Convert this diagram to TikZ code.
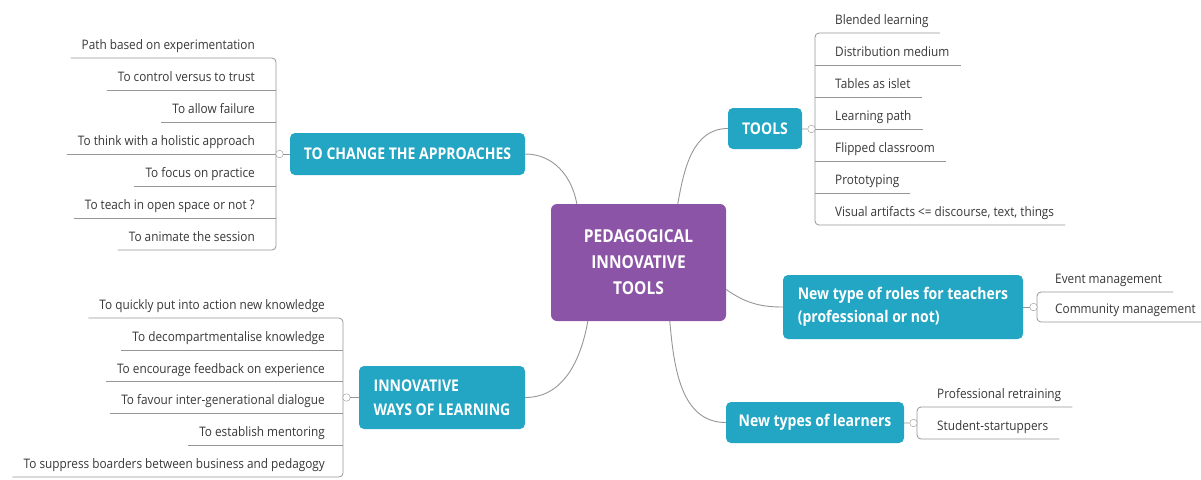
\documentclass[tikz,border=0pt]{standalone}
\usepackage{fontspec}
\setmainfont{Open Sans}[FakeStretch=0.87]
\newfontfamily\leaffont{Open Sans}[FakeStretch=0.9]
\usepackage{xcolor}
\usepackage{tikz}
\usetikzlibrary{positioning,shapes,calc}
\definecolor{rootpurple}{RGB}{140,84,166}
\definecolor{topicblue}{RGB}{34,166,196}
\definecolor{leafgray}{RGB}{55,55,55}
\definecolor{linegray}{RGB}{150,150,150}

\begin{document}
\begin{tikzpicture}[x=1pt,y=1pt,
	root/.style={fill=rootpurple, rounded corners=6pt, text=white, align=center, font=\bfseries\fontsize{17.8}{26}\selectfont, minimum width=175pt, minimum height=117pt},
	topic/.style={fill=topicblue, rounded corners=5pt, text=white, font=\bfseries\fontsize{16.1}{23.5}\selectfont},
	leafL/.style={anchor=south east, inner xsep=11pt, inner ysep=5pt, text height=10pt, text depth=3pt, text=leafgray, font=\leaffont\fontsize{13.1}{14}\selectfont},
	leafR/.style={anchor=south west, inner xsep=11pt, inner ysep=5pt, text height=10pt, text depth=3pt, text=leafgray, font=\leaffont\fontsize{13.1}{14}\selectfont},
	hub/.style={circle, draw=linegray, fill=white, inner sep=0pt, minimum size=7.5pt},
	twig/.style={draw=linegray, line width=0.8pt},
	branch/.style={draw=linegray, line width=0.9pt}]
\useasboundingbox (0,0) rectangle (1201,-479);

\node[root] (root) at (638.5,-262.5) {PEDAGOGICAL\\INNOVATIVE\\TOOLS};
\node[topic, minimum width=235pt, minimum height=42pt] (change) at (407.5,-154) {TO CHANGE THE APPROACHES};
\node[topic, align=left, minimum width=166pt, minimum height=63pt] (ways) at (442,-397.5) {INNOVATIVE\\WAYS OF LEARNING};
\node[topic, minimum width=74pt, minimum height=41pt] (tools) at (765,-128.5) {TOOLS};
\node[topic, align=left, minimum width=240pt, minimum height=64pt] (roles) at (903,-307) {New type of roles for teachers\\(professional or not)};
\node[topic, minimum width=178pt, minimum height=41pt] (learners) at (815,-422.5) {New types of learners};

\draw[branch] (change.east) to[out=0,in=100] ([xshift=26pt]root.north west);
\draw[branch] (ways.east) to[out=0,in=-100] ([xshift=37pt]root.south west);
\draw[branch] (tools.west) to[out=180,in=80] ([xshift=127pt]root.north west);
\draw[branch] ([yshift=-27pt]root.east) to[out=-35,in=180] (roles.west);
\draw[branch] ([xshift=119pt]root.south west) to[out=-85,in=180] (learners.west);

\node[leafL] (c1) at (266,-58) {Path based on experimentation};
\node[leafL] (c2) at (266,-90) {To control versus to trust};
\node[leafL] (c3) at (266,-122) {To allow failure};
\node[leafL] (c4) at (266,-154) {To think with a holistic approach};
\node[leafL] (c5) at (266,-186) {To focus on practice};
\node[leafL] (c6) at (266,-218) {To teach in open space or not ?};
\node[leafL] (c7) at (266,-250) {To animate the session};
\coordinate (b1) at (276,-154);
\draw[twig, rounded corners=4pt] (c1.south west) -- (c1.south west -| b1) -- (c7.south west -| b1) -- (c7.south west);
\draw[twig] (c2.south west) -- (c2.south west -| b1) (c3.south west) -- (c3.south west -| b1) (c4.south west) -- (c4.south west -| b1) (c5.south west) -- (c5.south west -| b1) (c6.south west) -- (c6.south west -| b1);
\node[hub] (h1) at (279.5,-154) {};
\draw[twig] (h1) -- (change);

\node[leafL] (w1) at (336,-318) {To quickly put into action new knowledge};
\node[leafL] (w2) at (336,-350) {To decompartmentalise knowledge};
\node[leafL] (w3) at (336,-381.5) {To encourage feedback on experience};
\node[leafL] (w4) at (336,-413) {To favour inter-generational dialogue};
\node[leafL] (w5) at (336,-445) {To establish mentoring};
\node[leafL] (w6) at (336,-477) {To suppress boarders between business and pedagogy};
\coordinate (b2) at (343,-397.5);
\draw[twig, rounded corners=4pt] (w1.south west) -- (w1.south west -| b2) -- (w6.south west -| b2) -- (w6.south west);
\draw[twig] (w2.south west) -- (w2.south west -| b2) (w3.south west) -- (w3.south west -| b2) (w4.south west) -- (w4.south west -| b2) (w5.south west) -- (w5.south west -| b2);
\node[hub] (h2) at (346.5,-397.5) {};
\draw[twig] (h2) -- (ways);

\node[leafR] (t1) at (824,-33) {Blended learning};
\node[leafR] (t2) at (824,-65) {Distribution medium};
\node[leafR] (t3) at (824,-97) {Tables as islet};
\node[leafR] (t4) at (824,-129) {Learning path};
\node[leafR] (t5) at (824,-161) {Flipped classroom};
\node[leafR] (t6) at (824,-193) {Prototyping};
\node[leafR] (t7) at (824,-225) {Visual artifacts <= discourse, text, things};
\coordinate (b3) at (815,-129);
\draw[twig, rounded corners=4pt] (t1.south east) -- (t1.south east -| b3) -- (t7.south east -| b3) -- (t7.south east);
\draw[twig] (t2.south east) -- (t2.south east -| b3) (t3.south east) -- (t3.south east -| b3) (t4.south east) -- (t4.south east -| b3) (t5.south east) -- (t5.south east -| b3) (t6.south east) -- (t6.south east -| b3);
\node[hub] (h3) at (811.5,-129) {};
\draw[twig] (h3) -- (tools);

\node[leafR] (r1) at (1044,-292) {Event management};
\node[leafR] (r2) at (1044,-322) {Community management};
\coordinate (b4) at (1037,-307);
\draw[twig, rounded corners=4pt] (r1.south east) -- (r1.south east -| b4) -- (r2.south east -| b4) -- (r2.south east);
\node[hub] (h4) at (1033.5,-307) {};
\draw[twig] (h4) -- (roles);

\node[leafR] (n1) at (926,-407) {Professional retraining};
\node[leafR] (n2) at (926,-439) {Student-startuppers};
\coordinate (b5) at (917,-423);
\draw[twig, rounded corners=4pt] (n1.south east) -- (n1.south east -| b5) -- (n2.south east -| b5) -- (n2.south east);
\node[hub] (h5) at (913.5,-423) {};
\draw[twig] (h5) -- (learners);
\end{tikzpicture}
\end{document}
